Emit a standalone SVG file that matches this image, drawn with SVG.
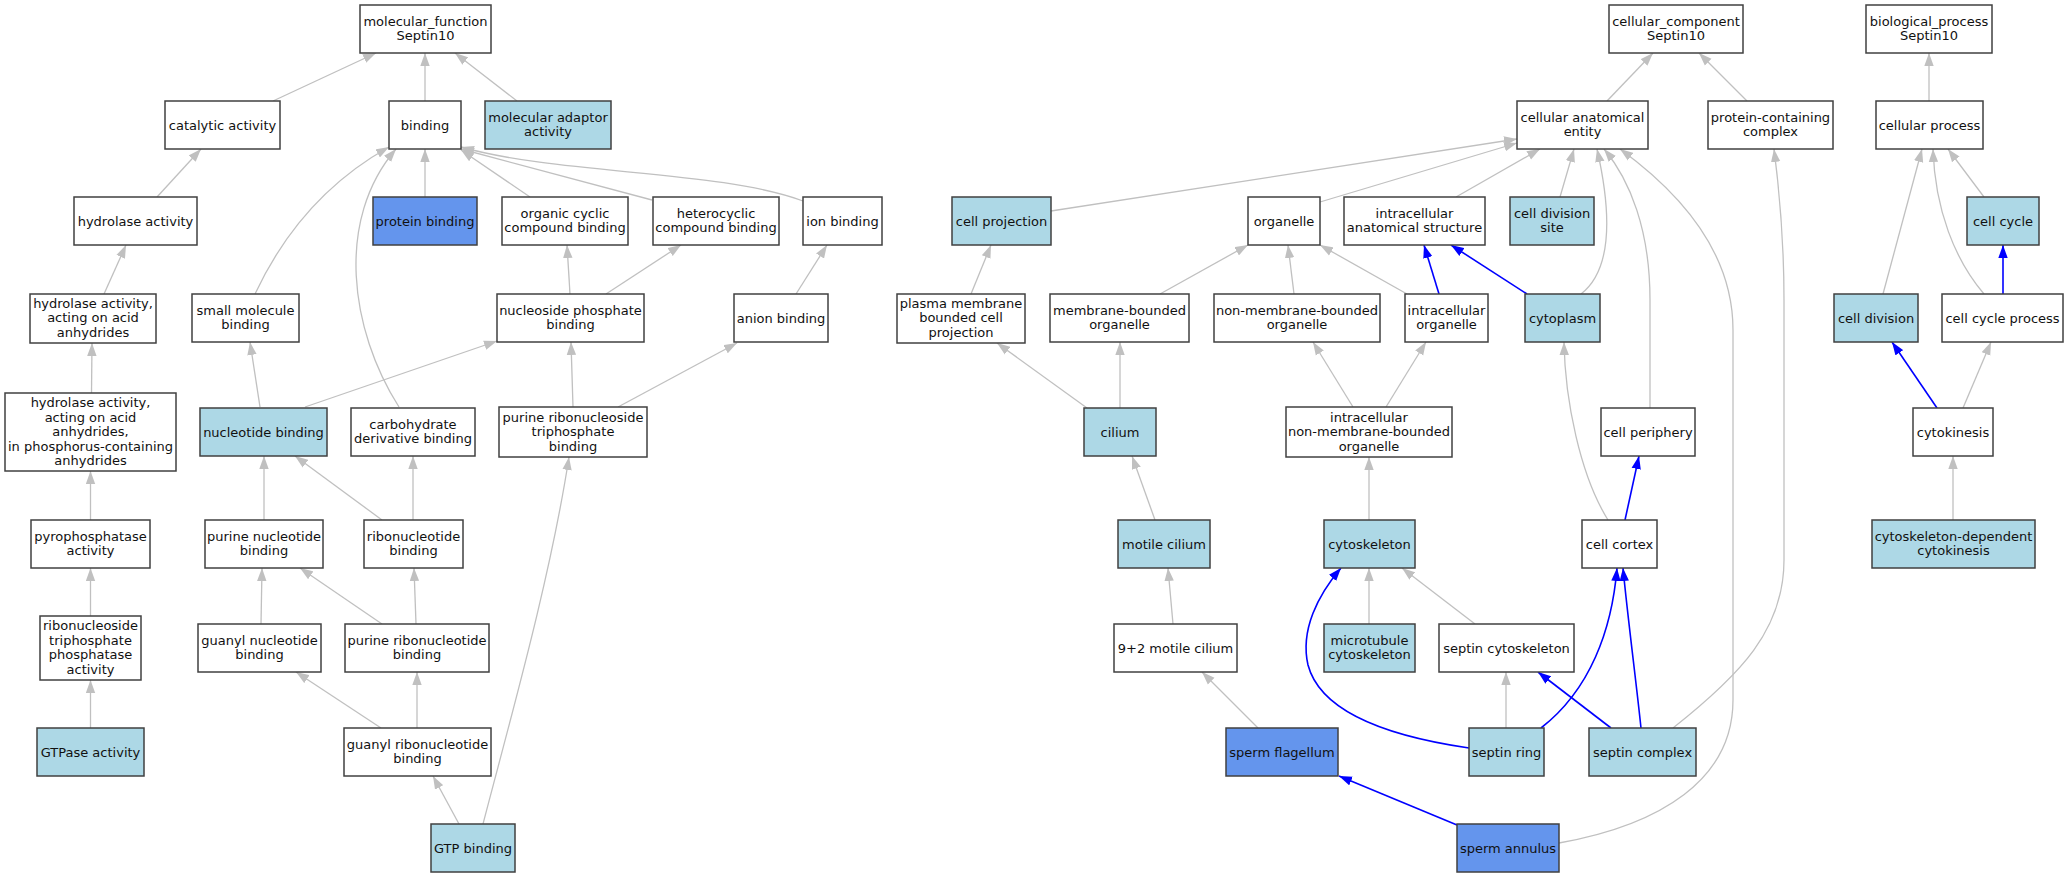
<svg xmlns="http://www.w3.org/2000/svg" width="2068" height="877" viewBox="0 0 2068 877">
<style>
.n rect{stroke:#404040;stroke-width:1.5}
.w rect{fill:#ffffff}
.lb rect{fill:#add8e6}
.cb rect{fill:#6495ed}
text{font-family:"DejaVu Sans","Liberation Sans",sans-serif;font-size:13px;text-anchor:middle;fill:#111}
.e path{fill:none;stroke:#c0c0c0;stroke-width:1.3;marker-end:url(#ag)}
.e path.b{stroke:#0000ff;stroke-width:1.6;marker-end:url(#ab)}
</style>
<defs>
<marker id="ag" markerUnits="userSpaceOnUse" markerWidth="14" markerHeight="10" refX="13" refY="5" orient="auto"><path d="M0,0.3 L13,5 L0,9.7 z" fill="#c0c0c0"/></marker>
<marker id="ab" markerUnits="userSpaceOnUse" markerWidth="14" markerHeight="10" refX="13" refY="5" orient="auto"><path d="M0,0.3 L13,5 L0,9.7 z" fill="#0000ff"/></marker>
</defs>
<rect x="0" y="0" width="2068" height="877" fill="#ffffff"/>
<g class="e" id="edges">
<path d="M273,101 L376,53"/>
<path d="M425,101 L425,53"/>
<path d="M517,101 L455,53"/>
<path d="M157,197 L201,149"/>
<path d="M104,294 L126,245"/>
<path d="M91.5,393 L92,343"/>
<path d="M90.5,520 L90.5,471"/>
<path d="M90.5,616 L90.5,568"/>
<path d="M90.5,728 L90.5,680"/>
<path d="M255,294 C285,230 330,180 389,147"/>
<path d="M425,197 L425,149"/>
<path d="M530,197 L461,150"/>
<path d="M652,200 L461,149"/>
<path d="M803,201 C720,170 560,175 461,147"/>
<path d="M260,407 L250,342"/>
<path d="M305,407 L497,341"/>
<path d="M399,407 C350,330 335,220 396,149"/>
<path d="M570,294 L567,245"/>
<path d="M606,294 L681,245"/>
<path d="M796,294 L827,245"/>
<path d="M573,407 L571,342"/>
<path d="M618,407 L737,343"/>
<path d="M264,520 L264,456"/>
<path d="M382,520 L295,456"/>
<path d="M413,520 L413,456"/>
<path d="M261,624 L262,568"/>
<path d="M382,624 L300,568"/>
<path d="M416,624 L414,568"/>
<path d="M381,728 L296,672"/>
<path d="M417,728 L417,672"/>
<path d="M459,824 L433,776"/>
<path d="M483,824 C510,720 550,580 569,457"/>
<path d="M1607,101 L1653,53"/>
<path d="M1747,101 L1699,53"/>
<path d="M1051,211 L1517,139"/>
<path d="M1320,202 L1517,143"/>
<path d="M1456,197 L1540,149"/>
<path d="M1560,197 L1574,149"/>
<path d="M1581,294 C1612,270 1612,215 1597,149"/>
<path d="M1650,408 L1650,300 C1650,230 1630,180 1604,149"/>
<path d="M1559,843 C1660,825 1733,780 1733,700 L1733,330 C1733,260 1690,200 1620,149"/>
<path d="M1673,728 C1740,675 1784,630 1784,560 L1784,300 C1784,230 1778,180 1774,149"/>
<path d="M1160,294 L1248,245"/>
<path d="M1294,294 L1288,245"/>
<path d="M1407,294 L1320,245"/>
<path class="b" d="M1439,294 L1424,245"/>
<path class="b" d="M1527,294 L1451,245"/>
<path d="M971,294 L991,245"/>
<path d="M1087,408 L997,343"/>
<path d="M1120,408 L1120,342"/>
<path d="M1353,407 L1313,342"/>
<path d="M1386,407 L1426,342"/>
<path d="M1155,520 L1132,456"/>
<path d="M1369,520 L1369,457"/>
<path d="M1608,520 C1580,475 1565,400 1564,342"/>
<path class="b" d="M1625,520 L1639,456"/>
<path d="M1173,624 L1168,568"/>
<path d="M1369,624 L1369,568"/>
<path d="M1475,624 L1402,568"/>
<path d="M1258,728 L1202,672"/>
<path d="M1506,728 L1506,672"/>
<path class="b" d="M1469,748 C1380,735 1320,710 1308,665 C1300,630 1318,595 1341,568"/>
<path class="b" d="M1541,728 C1590,690 1612,630 1617,568"/>
<path class="b" d="M1611,728 L1538,672"/>
<path class="b" d="M1641,728 C1636,680 1628,620 1623,568"/>
<path class="b" d="M1457,825 L1339,776"/>
<path d="M1929,101 L1929,53"/>
<path d="M1984,197 L1948,149"/>
<path d="M1883,294 L1922,149"/>
<path d="M1984,294 C1955,260 1935,210 1933,149"/>
<path class="b" d="M2003,294 L2003,245"/>
<path class="b" d="M1937,408 L1892,342"/>
<path d="M1963,408 L1991,342"/>
<path d="M1953,520 L1953,456"/>
</g>
<g id="molecular_function" class="n w"><rect x="360" y="5" width="131" height="48"/><text x="425.5" y="25.8">molecular_function<tspan x="425.5" dy="14.5">Septin10</tspan></text></g>
<g id="cellular_component" class="n w"><rect x="1609" y="5" width="134" height="48"/><text x="1676" y="25.8">cellular_component<tspan x="1676" dy="14.5">Septin10</tspan></text></g>
<g id="biological_process" class="n w"><rect x="1866" y="5" width="126" height="48"/><text x="1929" y="25.8">biological_process<tspan x="1929" dy="14.5">Septin10</tspan></text></g>
<g id="catalytic_activity" class="n w"><rect x="165" y="101" width="115" height="48"/><text x="222.5" y="129.5">catalytic activity</text></g>
<g id="binding" class="n w"><rect x="389" y="101" width="72" height="48"/><text x="425" y="129.5">binding</text></g>
<g id="molecular_adaptor_activity" class="n lb"><rect x="485" y="101" width="126" height="48"/><text x="548" y="121.8">molecular adaptor<tspan x="548" dy="14.5">activity</tspan></text></g>
<g id="cellular_anatomical_entity" class="n w"><rect x="1517" y="101" width="131" height="48"/><text x="1582.5" y="121.8">cellular anatomical<tspan x="1582.5" dy="14.5">entity</tspan></text></g>
<g id="protein_containing_complex" class="n w"><rect x="1708" y="101" width="125" height="48"/><text x="1770.5" y="121.8">protein-containing<tspan x="1770.5" dy="14.5">complex</tspan></text></g>
<g id="cellular_process" class="n w"><rect x="1876" y="101" width="107" height="48"/><text x="1929.5" y="129.5">cellular process</text></g>
<g id="hydrolase_activity" class="n w"><rect x="74" y="197" width="123" height="48"/><text x="135.5" y="225.5">hydrolase activity</text></g>
<g id="protein_binding" class="n cb"><rect x="373" y="197" width="104" height="48"/><text x="425" y="225.5">protein binding</text></g>
<g id="organic_cyclic_compound_binding" class="n w"><rect x="502" y="197" width="126" height="48"/><text x="565" y="217.8">organic cyclic<tspan x="565" dy="14.5">compound binding</tspan></text></g>
<g id="heterocyclic_compound_binding" class="n w"><rect x="653" y="197" width="126" height="48"/><text x="716" y="217.8">heterocyclic<tspan x="716" dy="14.5">compound binding</tspan></text></g>
<g id="ion_binding" class="n w"><rect x="803" y="197" width="79" height="48"/><text x="842.5" y="225.5">ion binding</text></g>
<g id="cell_projection" class="n lb"><rect x="952" y="197" width="99" height="48"/><text x="1001.5" y="225.5">cell projection</text></g>
<g id="organelle" class="n w"><rect x="1248" y="197" width="72" height="48"/><text x="1284" y="225.5">organelle</text></g>
<g id="intracellular_anatomical_structure" class="n w"><rect x="1344" y="197" width="141" height="48"/><text x="1414.5" y="217.8">intracellular<tspan x="1414.5" dy="14.5">anatomical structure</tspan></text></g>
<g id="cell_division_site" class="n lb"><rect x="1510" y="197" width="84" height="48"/><text x="1552" y="217.8">cell division<tspan x="1552" dy="14.5">site</tspan></text></g>
<g id="cell_cycle" class="n lb"><rect x="1967" y="197" width="72" height="48"/><text x="2003" y="225.5">cell cycle</text></g>
<g id="hydrolase_acting" class="n w"><rect x="30" y="294" width="126" height="49"/><text x="93" y="307.8">hydrolase activity,<tspan x="93" dy="14.5">acting on acid</tspan><tspan x="93" dy="14.5">anhydrides</tspan></text></g>
<g id="small_molecule_binding" class="n w"><rect x="192" y="294" width="107" height="48"/><text x="245.5" y="314.8">small molecule<tspan x="245.5" dy="14.5">binding</tspan></text></g>
<g id="nucleoside_phosphate_binding" class="n w"><rect x="497" y="294" width="147" height="48"/><text x="570.5" y="314.8">nucleoside phosphate<tspan x="570.5" dy="14.5">binding</tspan></text></g>
<g id="anion_binding" class="n w"><rect x="734" y="294" width="94" height="48"/><text x="781" y="322.5">anion binding</text></g>
<g id="plasma_membrane_bounded_cell_projection" class="n w"><rect x="897" y="294" width="128" height="49"/><text x="961" y="307.8">plasma membrane<tspan x="961" dy="14.5">bounded cell</tspan><tspan x="961" dy="14.5">projection</tspan></text></g>
<g id="membrane_bounded_organelle" class="n w"><rect x="1050" y="294" width="139" height="48"/><text x="1119.5" y="314.8">membrane-bounded<tspan x="1119.5" dy="14.5">organelle</tspan></text></g>
<g id="non_membrane_bounded_organelle" class="n w"><rect x="1214" y="294" width="166" height="48"/><text x="1297" y="314.8">non-membrane-bounded<tspan x="1297" dy="14.5">organelle</tspan></text></g>
<g id="intracellular_organelle" class="n w"><rect x="1405" y="294" width="83" height="48"/><text x="1446.5" y="314.8">intracellular<tspan x="1446.5" dy="14.5">organelle</tspan></text></g>
<g id="cytoplasm" class="n lb"><rect x="1525" y="294" width="75" height="48"/><text x="1562.5" y="322.5">cytoplasm</text></g>
<g id="cell_division" class="n lb"><rect x="1834" y="294" width="84" height="48"/><text x="1876" y="322.5">cell division</text></g>
<g id="cell_cycle_process" class="n w"><rect x="1942" y="294" width="121" height="48"/><text x="2002.5" y="322.5">cell cycle process</text></g>
<g id="hydrolase_phosphorus" class="n w"><rect x="5" y="393" width="171" height="78"/><text x="90.5" y="407">hydrolase activity,<tspan x="90.5" dy="14.5">acting on acid</tspan><tspan x="90.5" dy="14.5">anhydrides,</tspan><tspan x="90.5" dy="14.5">in phosphorus-containing</tspan><tspan x="90.5" dy="14.5">anhydrides</tspan></text></g>
<g id="nucleotide_binding" class="n lb"><rect x="200" y="408" width="127" height="48"/><text x="263.5" y="436.5">nucleotide binding</text></g>
<g id="carbohydrate_derivative_binding" class="n w"><rect x="351" y="408" width="124" height="48"/><text x="413" y="428.8">carbohydrate<tspan x="413" dy="14.5">derivative binding</tspan></text></g>
<g id="purine_ribonucleoside_triphosphate_binding" class="n w"><rect x="499" y="407" width="148" height="50"/><text x="573" y="421.5">purine ribonucleoside<tspan x="573" dy="14.5">triphosphate</tspan><tspan x="573" dy="14.5">binding</tspan></text></g>
<g id="cilium" class="n lb"><rect x="1084" y="408" width="72" height="48"/><text x="1120" y="436.5">cilium</text></g>
<g id="intracellular_non_membrane_bounded_organelle" class="n w"><rect x="1286" y="407" width="166" height="50"/><text x="1369" y="421.5">intracellular<tspan x="1369" dy="14.5">non-membrane-bounded</tspan><tspan x="1369" dy="14.5">organelle</tspan></text></g>
<g id="cell_periphery" class="n w"><rect x="1601" y="408" width="94" height="48"/><text x="1648" y="436.5">cell periphery</text></g>
<g id="cytokinesis" class="n w"><rect x="1913" y="408" width="80" height="48"/><text x="1953" y="436.5">cytokinesis</text></g>
<g id="pyrophosphatase_activity" class="n w"><rect x="31" y="520" width="119" height="48"/><text x="90.5" y="540.8">pyrophosphatase<tspan x="90.5" dy="14.5">activity</tspan></text></g>
<g id="purine_nucleotide_binding" class="n w"><rect x="205" y="520" width="118" height="48"/><text x="264" y="540.8">purine nucleotide<tspan x="264" dy="14.5">binding</tspan></text></g>
<g id="ribonucleotide_binding" class="n w"><rect x="364" y="520" width="99" height="48"/><text x="413.5" y="540.8">ribonucleotide<tspan x="413.5" dy="14.5">binding</tspan></text></g>
<g id="motile_cilium" class="n lb"><rect x="1118" y="520" width="92" height="48"/><text x="1164" y="548.5">motile cilium</text></g>
<g id="cytoskeleton" class="n lb"><rect x="1324" y="520" width="91" height="48"/><text x="1369.5" y="548.5">cytoskeleton</text></g>
<g id="cell_cortex" class="n w"><rect x="1582" y="520" width="75" height="48"/><text x="1619.5" y="548.5">cell cortex</text></g>
<g id="cytoskeleton_dependent_cytokinesis" class="n lb"><rect x="1872" y="520" width="163" height="48"/><text x="1953.5" y="540.8">cytoskeleton-dependent<tspan x="1953.5" dy="14.5">cytokinesis</tspan></text></g>
<g id="ribonucleoside_triphosphate_phosphatase_activity" class="n w"><rect x="40" y="616" width="101" height="64"/><text x="90.5" y="630.3">ribonucleoside<tspan x="90.5" dy="14.5">triphosphate</tspan><tspan x="90.5" dy="14.5">phosphatase</tspan><tspan x="90.5" dy="14.5">activity</tspan></text></g>
<g id="guanyl_nucleotide_binding" class="n w"><rect x="198" y="624" width="123" height="48"/><text x="259.5" y="644.8">guanyl nucleotide<tspan x="259.5" dy="14.5">binding</tspan></text></g>
<g id="purine_ribonucleotide_binding" class="n w"><rect x="345" y="624" width="144" height="48"/><text x="417" y="644.8">purine ribonucleotide<tspan x="417" dy="14.5">binding</tspan></text></g>
<g id="motile_cilium_9_2" class="n w"><rect x="1114" y="624" width="123" height="48"/><text x="1175.5" y="652.5">9+2 motile cilium</text></g>
<g id="microtubule_cytoskeleton" class="n lb"><rect x="1324" y="624" width="91" height="48"/><text x="1369.5" y="644.8">microtubule<tspan x="1369.5" dy="14.5">cytoskeleton</tspan></text></g>
<g id="septin_cytoskeleton" class="n w"><rect x="1439" y="624" width="135" height="48"/><text x="1506.5" y="652.5">septin cytoskeleton</text></g>
<g id="GTPase_activity" class="n lb"><rect x="37" y="728" width="107" height="48"/><text x="90.5" y="756.5">GTPase activity</text></g>
<g id="guanyl_ribonucleotide_binding" class="n w"><rect x="344" y="728" width="147" height="48"/><text x="417.5" y="748.8">guanyl ribonucleotide<tspan x="417.5" dy="14.5">binding</tspan></text></g>
<g id="sperm_flagellum" class="n cb"><rect x="1226" y="728" width="112" height="48"/><text x="1282" y="756.5">sperm flagellum</text></g>
<g id="septin_ring" class="n lb"><rect x="1469" y="728" width="75" height="48"/><text x="1506.5" y="756.5">septin ring</text></g>
<g id="septin_complex" class="n lb"><rect x="1589" y="728" width="107" height="48"/><text x="1642.5" y="756.5">septin complex</text></g>
<g id="GTP_binding" class="n lb"><rect x="431" y="824" width="84" height="48"/><text x="473" y="852.5">GTP binding</text></g>
<g id="sperm_annulus" class="n cb"><rect x="1457" y="824" width="102" height="48"/><text x="1508" y="852.5">sperm annulus</text></g>
</svg>
